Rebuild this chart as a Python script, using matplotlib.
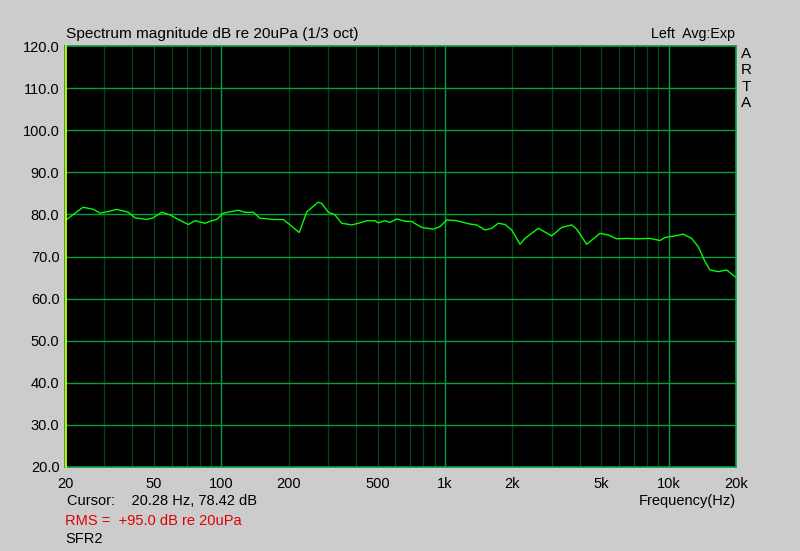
import numpy as np
import matplotlib
matplotlib.use("Agg")
import matplotlib.pyplot as plt
from matplotlib.ticker import FixedLocator, NullFormatter

# Data (1/3-oct smoothed spectrum)
freq_hz = [20.2, 24.1, 26.8, 28.7, 30.7, 34.1, 38.4, 41.1, 46.4, 49.6,
           54.1, 58.9, 64.2, 71.2, 76.3, 84.5, 90.6, 95.3, 102, 119,
           127.6, 139, 148.8, 170.8, 189, 203, 223, 241, 271, 281,
           301, 322, 345, 383, 417, 447, 486, 503, 539, 568,
           608, 662, 710, 787, 887, 950, 1018, 1128, 1207, 1294,
           1386, 1509, 1617, 1731, 1855, 1987, 2164, 2279, 2613, 3000,
           3325, 3685, 3881, 4300, 4932, 5370, 5856, 6492, 7194, 8254,
           9146, 9628, 10672, 11624, 12678, 13570, 14536, 15302, 16668, 18172,
           19794]
level_db = [78.7, 81.7, 81.2, 80.3, 80.6, 81.2, 80.5, 79.2, 78.8, 79.2,
            80.5, 79.9, 78.8, 77.6, 78.5, 77.9, 78.5, 78.8, 80.3, 81.0,
            80.5, 80.5, 79.1, 78.8, 78.8, 77.5, 75.7, 80.6, 82.9, 82.6,
            80.5, 79.9, 77.9, 77.5, 78.0, 78.5, 78.5, 78.0, 78.5, 78.1,
            78.9, 78.4, 78.3, 76.9, 76.5, 77.1, 78.7, 78.5, 78.1, 77.7,
            77.5, 76.3, 76.7, 77.9, 77.6, 76.3, 72.9, 74.3, 76.7, 74.9,
            76.9, 77.5, 76.5, 72.9, 75.5, 75.1, 74.2, 74.3, 74.2, 74.3,
            73.8, 74.5, 74.9, 75.3, 74.3, 72.3, 68.8, 66.8, 66.4, 66.8,
            65.2]

xtick_vals = [20, 50, 100, 200, 500, 1000, 2000, 5000, 10000, 20000]
xtick_labels = ["20", "50", "100", "200", "500", "1k", "2k", "5k", "10k", "20k"]
ytick_vals = [20, 30, 40, 50, 60, 70, 80, 90, 100, 110, 120]
ytick_labels = ["%.1f" % v for v in ytick_vals]
cursor_hz = 20.28

BG = "#cccccc"
MAJOR = "#00a040"
MINOR = "#0d3d12"
CURVE = "#00ff00"
FONT = ["Liberation Sans", "DejaVu Sans"]
plt.rcParams["font.family"] = FONT

fig = plt.figure(figsize=(8.0, 5.51), dpi=100, facecolor=BG)
ax = fig.add_axes([65 / 800, 1 - 467 / 551, (736 - 65) / 800, (467 - 46) / 551])
ax.set_facecolor("black")
ax.set_xscale("log")
ax.set_xlim(20, 20000)
ax.set_ylim(20, 120)

# minor vertical grid
minor = []
for dec in [10, 100, 1000, 10000]:
    for m in range(2, 10):
        v = dec * m
        if 20 < v < 20000:
            minor.append(v)
for v in minor:
    ax.axvline(v, color=MINOR, lw=1.0, zorder=1)
for v in [100, 1000, 10000]:
    ax.axvline(v, color=MAJOR, lw=1.0, zorder=2)
for v in ytick_vals[1:-1]:
    ax.axhline(v, color=MAJOR, lw=1.0, zorder=2)

ax.plot(freq_hz, level_db, color=CURVE, lw=1.0, zorder=4)

for s in ax.spines.values():
    s.set_color(MAJOR)
    s.set_linewidth(1.2)
ax.axvline(cursor_hz, color="#ffff00", lw=1.2, zorder=5, clip_on=False)

ax.xaxis.set_major_locator(FixedLocator(xtick_vals))
ax.set_xticks(xtick_vals)
ax.set_xticklabels(xtick_labels)
ax.xaxis.set_minor_locator(FixedLocator([]))
ax.xaxis.set_minor_formatter(NullFormatter())
ax.set_yticks(ytick_vals)
ax.set_yticklabels(ytick_labels)
ax.tick_params(axis="both", length=0, labelsize=10.5, colors="black")
ax.tick_params(axis="y", pad=4)
ax.tick_params(axis="x", pad=7)

fig.text(66 / 800, 1 - 34 / 551, "Spectrum magnitude dB re 20uPa (1/3 oct)",
         fontsize=11.1, va="center", ha="left")
fig.text(735 / 800, 1 - 34 / 551, "Left  Avg:Exp", fontsize=10.3, va="center", ha="right")
for i, ch in enumerate("ARTA"):
    fig.text(746 / 800, 1 - (54 + i * 16.3) / 551, ch, fontsize=11, va="center", ha="center")
fig.text(67 / 800, 1 - 501 / 551, "Cursor:    20.28 Hz, 78.42 dB", fontsize=10.5, va="center", ha="left")
fig.text(65 / 800, 1 - 521 / 551, "RMS =  +95.0 dB re 20uPa", fontsize=10.5, va="center",
         ha="left", color="#e00000")
fig.text(65 / 800, 1 - 539 / 551, "SFR2", fontsize=10.5, va="center", ha="left")
fig.text(639 / 800, 1 - 501 / 551, "Frequency(Hz)", fontsize=10.5, va="center", ha="left")

fig.savefig("out.png", dpi=100, facecolor=BG)
